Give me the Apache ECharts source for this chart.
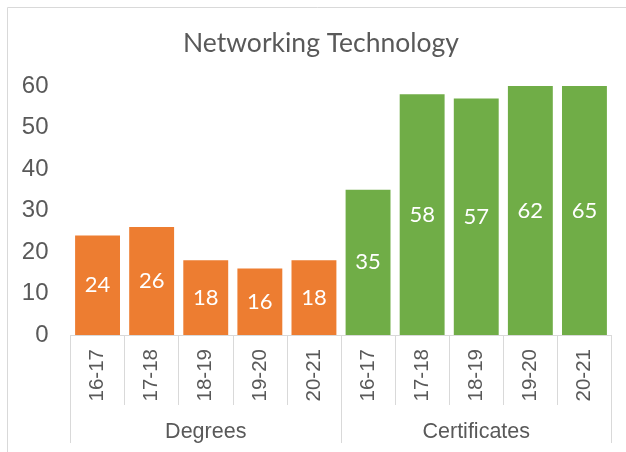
<!DOCTYPE html>
<html>
<head>
<meta charset="utf-8">
<script src="https://cdn.jsdelivr.net/npm/echarts@6/dist/echarts.min.js"></script>
<style>
  html, body { margin: 0; padding: 0; background: #fff; }
  #chart { width: 626px; height: 452px; }
</style>
</head>
<body>
<div id="chart"></div>
<script>
// data
var years = ['16-17', '17-18', '18-19', '19-20', '20-21'];
var groups = ['Degrees', 'Certificates'];
var degrees = [24, 26, 18, 16, 18];
var certificates = [35, 58, 57, 62, 65];
var yTicks = { min: 0, max: 60, interval: 10 };

var groupColors = ['#ED7D31', '#70AD47'];
var textColor = '#595959';
var lineColor = '#D9D9D9';

// flatten into the 10 bars of the chart
var categories = [];
var barData = [];
[degrees, certificates].forEach(function (vals, g) {
  vals.forEach(function (v, i) {
    categories.push(years[i]);
    barData.push({
      // excel clips bars at the axis max, label keeps the real value
      value: Math.min(v, yTicks.max),
      realValue: v,
      itemStyle: { color: groupColors[g] }
    });
  });
});

var chart = echarts.init(document.getElementById('chart'));
chart.setOption({
  animation: false,
  title: {
    text: 'Networking Technology',
    left: 183,
    top: 30,
    padding: 0,
    textStyle: { fontFamily: 'Lato', fontSize: 26.5, fontWeight: 'normal', color: textColor }
  },
  graphic: [{
    type: 'rect',
    shape: { x: 7.5, y: 7.5, width: 700, height: 600 },
    style: { fill: null, stroke: lineColor, lineWidth: 1 },
    silent: true
  }],
  grid: { left: 70.5, right: 14.5, top: 86, bottom: 117 },
  xAxis: [
    {
      type: 'category',
      data: categories,
      position: 'bottom',
      axisLine: { lineStyle: { color: lineColor } },
      axisTick: { show: true, length: 70, lineStyle: { color: lineColor } },
      axisLabel: {
        rotate: 90, margin: 14, interval: 0,
        fontFamily: 'Liberation Sans', fontSize: 20.5, color: textColor
      }
    },
    {
      type: 'category',
      data: groups,
      position: 'bottom',
      axisLine: { lineStyle: { color: lineColor } },
      axisTick: { show: true, length: 108, lineStyle: { color: lineColor } },
      axisLabel: {
        margin: 86, interval: 0,
        fontFamily: 'Liberation Sans', fontSize: 21.5, color: textColor
      }
    }
  ],
  yAxis: {
    type: 'value',
    min: yTicks.min,
    max: yTicks.max,
    interval: yTicks.interval,
    axisLine: { show: false },
    axisTick: { show: false },
    splitLine: { show: false },
    axisLabel: { margin: 22, fontFamily: 'Liberation Sans', fontSize: 24, color: textColor }
  },
  series: [{
    type: 'bar',
    xAxisIndex: 0,
    data: barData,
    barCategoryGap: '17%',
    label: {
      show: true,
      position: 'inside',
      fontFamily: 'Lato',
      fontSize: 22,
      color: '#fff',
      formatter: function (p) { return p.data.realValue; }
    }
  }]
});
</script>
</body>
</html>
